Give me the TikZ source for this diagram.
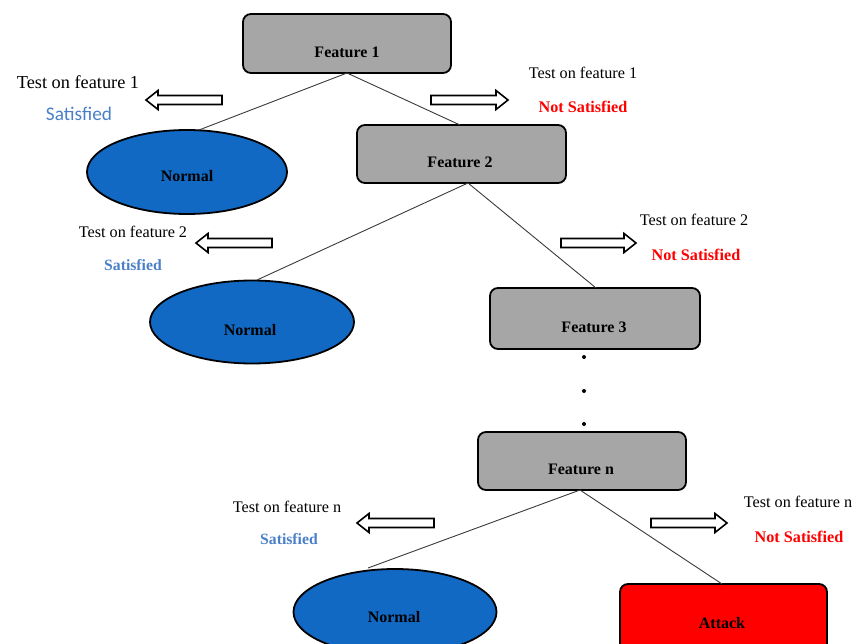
\documentclass[tikz,border=0pt]{standalone}
\usepackage{fontspec}
\setmainfont{Liberation Serif}
\newfontfamily\calibri{Carlito}
\usetikzlibrary{shapes.geometric}
\definecolor{boxgray}{HTML}{A6A6A6}
\definecolor{leafblue}{HTML}{1269C4}
\definecolor{okblue}{HTML}{4A7FC8}
\definecolor{badred}{HTML}{FF0000}
\definecolor{edgegray}{HTML}{3A3A3A}
\tikzset{
  x=1pt, y=-1pt,
  featbox/.style={draw=black, line width=1.8pt, fill=boxgray, rounded corners=8pt},
  attackbox/.style={draw=black, line width=1.8pt, fill=badred, rounded corners=8pt},
  leaf/.style={ellipse, draw=black, line width=1.8pt, fill=leafblue, inner sep=0pt},
  lbl/.style={font=\bfseries\fontsize{16}{18}\selectfont, inner sep=0pt},
  edge/.style={draw=edgegray, line width=0.9pt},
  testtxt/.style={font=\fontsize{16.2}{18}\selectfont, inner sep=0pt},
  oktxt/.style={font=\bfseries\fontsize{15.7}{18}\selectfont, text=okblue, inner sep=0pt},
  badtxt/.style={font=\bfseries\fontsize{16.2}{18}\selectfont, text=badred, inner sep=0pt},
  hollow/.style={draw=black, line width=1.6pt, fill=white, line join=miter},
  dot/.style={circle, fill=black, inner sep=0pt, minimum size=4pt}
}
% hollow block arrow from tail x #1 to tip x #2 at height #3
\newcommand\blockarrow[3]{%
  \pgfmathsetmacro\hl{ (#2>#1) ? -12 : 12 }%
  \draw[hollow] (#1,#3-4.5) -- (#2+\hl,#3-4.5) -- (#2+\hl,#3-9.5) -- (#2,#3)
    -- (#2+\hl,#3+9.5) -- (#2+\hl,#3+4.5) -- (#1,#3+4.5) -- cycle;}
\begin{document}
\begin{tikzpicture}
\useasboundingbox (0,0) rectangle (854,644);

% decision nodes (boxes drawn as rectangles, labels sit low in the box)
\draw[featbox] (243,14) rectangle (451,73);
\node[lbl] (f1) at (347,52) {Feature 1};
\coordinate (f1b) at (347,73);

\draw[featbox] (357,125) rectangle (566,183);
\node[lbl] (f2) at (460,162) {Feature 2};
\coordinate (f2t) at (460,125);
\coordinate (f2b) at (468,183);

\draw[featbox] (490,288) rectangle (700,349);
\node[lbl] (f3) at (594,327) {Feature 3};
\coordinate (f3t) at (596,288);

\draw[featbox] (478,432) rectangle (686,490);
\node[lbl] (fn) at (581,469) {Feature n};
\coordinate (fnb) at (580,490);

\draw[attackbox] (620,584) rectangle (827,660);
\node[lbl] (atk) at (722,623) {Attack};
\coordinate (atkt) at (722,584);

% leaves
\node[leaf, minimum width=200pt, minimum height=84pt] (n1) at (187,172) {};
\node[lbl] at (187,176) {Normal};
\node[leaf, minimum width=204pt, minimum height=83pt] (n2) at (252,322) {};
\node[lbl] at (250,330) {Normal};
\node[leaf, minimum width=203pt, minimum height=86pt] (n3) at (395,612) {};
\node[lbl] at (394,617) {Normal};

% branches
\draw[edge] (f1b) -- (199,130);
\draw[edge] (f1b) -- (f2t);
\draw[edge] (f2b) -- (257,280);
\draw[edge] (f2b) -- (f3t);
\draw[edge] (fnb) -- (368,568);
\draw[edge] (fnb) -- (atkt);

% vertical ellipsis
\node[dot] (d1) at (584,357) {};
\node[dot] (d2) at (584,391) {};
\node[dot] (d3) at (584,424) {};

% test outcome arrows
\blockarrow{222}{146}{100}
\blockarrow{431}{508}{100}
\blockarrow{272}{196}{243}
\blockarrow{561}{636}{243}
\blockarrow{434}{357}{523}
\blockarrow{651}{727}{523}

% test outcome labels
\node[testtxt, font=\fontsize{18.3}{20}\selectfont] (t1l) at (78,82) {Test on feature 1};
\node[inner sep=0pt, font=\calibri\fontsize{19.3}{21}\selectfont, text=okblue] (s1l) at (79,114) {Satisfied};
\node[testtxt] (t1r) at (583,73) {Test on feature 1};
\node[badtxt] (s1r) at (583,107) {Not Satisfied};

\node[testtxt] (t2l) at (133,232) {Test on feature 2};
\node[oktxt] (s2l) at (133,265) {Satisfied};
\node[testtxt] (t2r) at (694,220) {Test on feature 2};
\node[badtxt] (s2r) at (696,255) {Not Satisfied};

\node[testtxt] (tnl) at (287,507) {Test on feature n};
\node[oktxt] (snl) at (289,539) {Satisfied};
\node[testtxt] (tnr) at (798,502) {Test on feature n};
\node[badtxt] (snr) at (799,537) {Not Satisfied};
\end{tikzpicture}
\end{document}
